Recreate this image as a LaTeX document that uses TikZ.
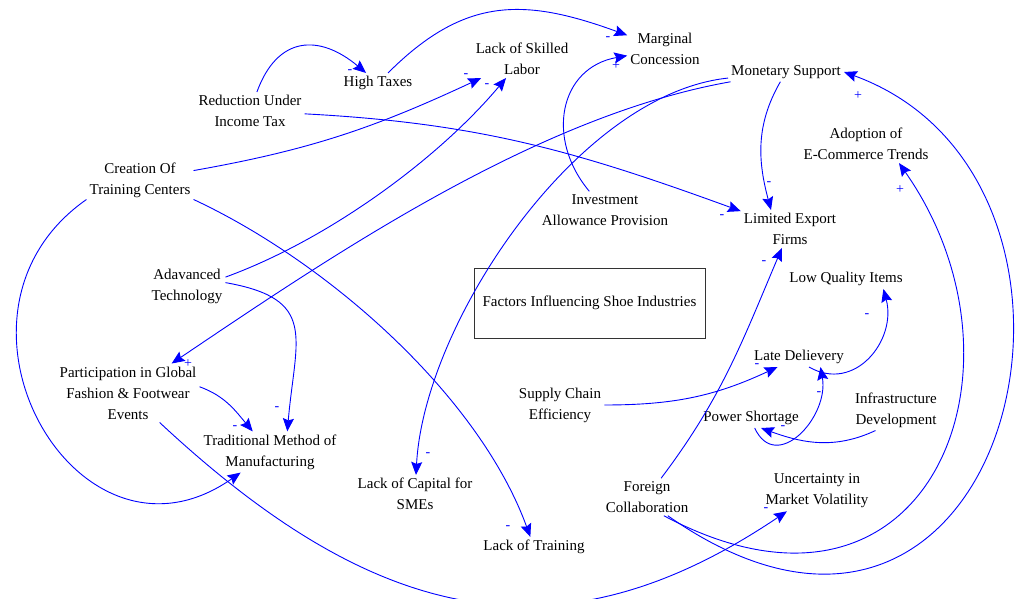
\documentclass[tikz,border=0pt]{standalone}
\usepackage{fontspec}
\setmainfont{Liberation Serif}
\usetikzlibrary{arrows.meta}

\begin{document}
\begin{tikzpicture}[
                x=1pt, y=1pt,
                var/.style={align=center, inner sep=3pt, font=\fontsize{15}{21}\selectfont},
                sign/.style={text=blue, inner sep=0pt, font=\fontsize{14}{14}\selectfont},
                link/.style={draw=blue, line width=0.9pt, -{Stealth[length=13pt, width=11pt, inset=2pt]}},
            ]
                \useasboundingbox (0, 0) rectangle (1020, 599);
                \node[var] (ht) at (378, 516) {High Taxes};
                \node[var] (lsl) at (522, 540) {Lack of Skilled\\Labor};
                \node[var] (mc) at (665, 550) {Marginal\\Concession};
                \node[var] (ms) at (786, 527) {Monetary Support};
                \node[var] (rut) at (250, 488) {Reduction Under\\Income Tax};
                \node[var] (aect) at (866, 455) {Adoption of\\E-Commerce Trends};
                \node[var] (cotc) at (140, 419) {Creation Of\\Training Centers};
                \node[var] (iap) at (605, 389) {Investment\\Allowance Provision};
                \node[var] (lef) at (790, 370) {Limited Export\\Firms};
                \node[var] (lqi) at (846, 320) {Low Quality Items};
                \node[var, draw=black!80, line width=0.9pt, minimum width=231pt, minimum height=70pt] (title) at (589.5, 296) {Factors Influencing Shoe Industries};
                \node[var] (at) at (187, 313) {Adavanced\\Technology};
                \node[var] (pgf) at (128, 206) {Participation in Global\\Fashion \& Footwear\\Events};
                \node[var] (ld) at (799, 242) {Late Delievery};
                \node[var] (sce) at (560, 194) {Supply Chain\\Efficiency};
                \node[var] (id) at (896, 189) {Infrastructure\\Development};
                \node[var] (ps) at (751, 181) {Power Shortage};
                \node[var] (tmm) at (270, 147) {Traditional Method of\\Manufacturing};
                \node[var] (lcs) at (415, 105) {Lack of Capital for\\SMEs};
                \node[var] (fc) at (647, 102) {Foreign\\Collaboration};
                \node[var] (uimv) at (817, 108) {Uncertainty in\\Market Volatility};
                \node[var] (lot) at (534, 52) {Lack of Training};

                \path (rut) edge[link, out=70, in=140, looseness=1.4] (ht);
                \path (rut) edge[link, out=-3, in=160] (lef);
                \path (ht) edge[link, out=45, in=160, looseness=1.15] (mc);
                \path (iap) edge[link, out=130, in=190, looseness=1.25] (mc);
                \path (cotc) edge[link, out=10, in=205] (lsl);
                \path (at.13) edge[link, out=20, in=230, looseness=0.8] (lsl);
                \path (ms) edge[link, out=190, in=34, looseness=0.8] (pgf);
                \path (ms) edge[link, out=186, in=87, looseness=0.77] (lcs);
                \path (ms) edge[link, out=240, in=105] (lef.135);
                \path (fc.-42) edge[link, out=-35, in=-20, out distance=420pt, in distance=320pt] (ms.east);
                \path (fc.-48) edge[link, out=-28, in=-55, out distance=300pt, in distance=250pt] (aect.-30);
                \path (fc) edge[link, out=53, in=-113] (lef);
                \path (sce) edge[link, out=0, in=205] (ld);
                \path (ld.-45) edge[link, out=-30, in=-75, looseness=1.25] (lqi.-15);
                \path (ps.-70) edge[link, out=-65, in=-80, looseness=1.45] (ld.-25);
                \path (id.-135) edge[link, out=205, in=-20] (ps.-45);
                \path (pgf) edge[link, out=-43, in=214, looseness=1.15] (uimv);
                \path (pgf.5) edge[link, out=-20, in=130] (tmm);
                \path (at.5) edge[link, out=-10, in=85, looseness=1.5] (tmm.50);
                \path (cotc.200) edge[link, out=215, in=215, out distance=200pt, in distance=200pt] (tmm);
                \path (cotc.-20) edge[link, out=-25, in=110, looseness=0.8] (lot);

                \node[sign] (s1) at (350, 527) {-};
                \node[sign] (s2) at (608, 560) {-};
                \node[sign] (s3) at (616, 533) {+};
                \node[sign] (s4) at (466, 523) {-};
                \node[sign] (s5) at (487, 513) {-};
                \node[sign] (s6) at (858, 503) {+};
                \node[sign] (s7) at (769, 415) {-};
                \node[sign] (s8) at (722, 382) {-};
                \node[sign] (s9) at (900, 409) {+};
                \node[sign] (s10) at (764, 336) {-};
                \node[sign] (s11) at (867, 283) {-};
                \node[sign] (s12) at (757, 233) {-};
                \node[sign] (s13) at (819, 205) {-};
                \node[sign] (s14) at (783, 171) {-};
                \node[sign] (s15) at (766, 89) {-};
                \node[sign] (s16) at (188, 235) {+};
                \node[sign] (s17) at (235, 171) {-};
                \node[sign] (s18) at (277, 190) {-};
                \node[sign] (s19) at (428, 144) {-};
                \node[sign] (s20) at (508, 71) {-};

            \end{tikzpicture}
\end{document}
